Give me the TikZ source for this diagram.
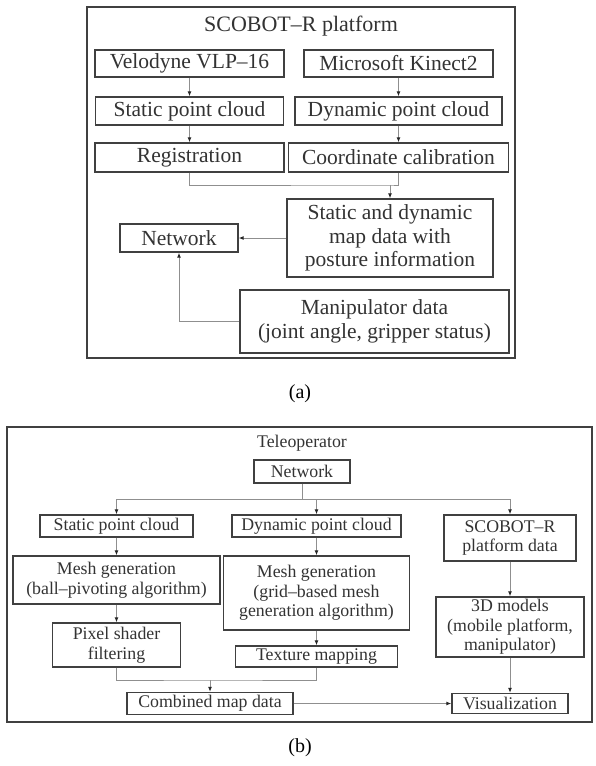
\documentclass[tikz,border=0pt]{standalone}
\usepackage{fontspec}
\setmainfont{Liberation Serif}
\usetikzlibrary{arrows.meta}

\newlength{\du}
\setlength{\du}{1pt}

\definecolor{framecolor}{rgb}{0.250000, 0.250000, 0.250000}
\definecolor{linkcolor}{rgb}{0.560000, 0.560000, 0.560000}
\definecolor{textcolor}{rgb}{0.200000, 0.200000, 0.200000}

\tikzset{
  frame/.style={draw=framecolor, line width=1.5\du},
  blockA/.style={draw=framecolor, line width=1.3\du, inner sep=0pt, align=center,
    text=textcolor, font=\fontsize{21.5}{23.5}\selectfont},
  blockB/.style={draw=framecolor, line width=1.3\du, inner sep=0pt, align=center,
    text=textcolor, font=\fontsize{17.8}{19.5}\selectfont},
  titleA/.style={inner sep=0pt, text=textcolor, font=\fontsize{22}{24}\selectfont},
  titleB/.style={inner sep=0pt, text=textcolor, font=\fontsize{17.8}{19.5}\selectfont},
  caption/.style={inner sep=0pt, text=black, font=\fontsize{20}{24}\selectfont},
  wire/.style={draw=linkcolor, line width=1\du},
  link/.style={draw=linkcolor, line width=1\du,
    -{Latex[length=5pt,width=4pt,color=black!85]}},
}

\begin{document}
\begin{tikzpicture}
\pgftransformxscale{1.000000}
\pgftransformyscale{-1.000000}
\fill[white] (0\du,0\du) rectangle (595\du,766\du);
\useasboundingbox (0\du,0\du) rectangle (595\du,766\du);
% panel (a)
\draw[frame] (87\du,7\du) rectangle (515\du,358\du);
\node[titleA] (titleA) at (301\du,26\du) {SCOBOT--R platform};
\node[blockA, minimum width=189\du, minimum height=27\du] (velo) at (189.5\du,63.5\du) {Velodyne VLP--16};
\node[blockA, minimum width=189\du, minimum height=27\du] (kinect) at (398.5\du,63.5\du) {Microsoft Kinect2};
\node[blockA, minimum width=188\du, minimum height=28\du] (staticA) at (189.5\du,111\du) {Static point cloud};
\node[blockA, minimum width=207\du, minimum height=28\du] (dynamicA) at (398.5\du,111\du) {Dynamic point cloud};
\node[blockA, minimum width=189\du, minimum height=29\du] (regist) at (189.5\du,157.5\du) {Registration};
\node[blockA, minimum width=220\du, minimum height=29\du] (calib) at (398.5\du,157.5\du) {Coordinate calibration};
\node[blockA, minimum width=206\du, minimum height=78\du] (mapdata) at (390\du,238\du) {Static and dynamic\\map data with\\posture information};
\node[blockA, minimum width=118\du, minimum height=28\du] (netA) at (179\du,238\du) {Network};
\node[blockA, minimum width=269\du, minimum height=63\du] (manip) at (374.5\du,321.5\du) {Manipulator data\\(joint angle, gripper status)};
\node[caption] (capA) at (300\du,394\du) {(a)};
\coordinate (mergeA) at (mapdata.north |- 0\du,185\du);
\draw[link] (velo) -- (staticA);
\draw[link] (kinect) -- (dynamicA);
\draw[link] (staticA) -- (regist);
\draw[link] (dynamicA) -- (calib);
\draw[wire] (regist.south) |- (mergeA) -| (calib.south);
\draw[link] (mergeA) -- (mapdata.north);
\draw[link] (mapdata.west) -- (netA.east);
\draw[link] (manip.west) -| (netA.south);
% panel (b)
\draw[frame] (7\du,427\du) rectangle (592\du,722\du);
\node[titleB] (titleB) at (302\du,443\du) {Teleoperator};
\node[blockB, minimum width=96\du, minimum height=23\du] (netB) at (302\du,471.5\du) {Network};
\node[blockB, minimum width=153\du, minimum height=22\du] (staticB) at (116.5\du,526\du) {Static point cloud};
\node[blockB, minimum width=169\du, minimum height=22\du] (dynamicB) at (316.5\du,526\du) {Dynamic point cloud};
\node[blockB, minimum width=132\du, minimum height=46\du] (platB) at (510\du,538\du) {SCOBOT--R\\platform data};
\node[blockB, minimum width=207\du, minimum height=48\du] (meshS) at (116.5\du,580\du) {Mesh generation\\(ball--pivoting algorithm)};
\node[blockB, minimum width=186\du, minimum height=74\du] (meshD) at (316.5\du,593\du) {Mesh generation\\(grid--based mesh\\generation algorithm)};
\node[blockB, minimum width=148\du, minimum height=60\du] (models) at (510\du,627\du) {3D models\\(mobile platform,\\manipulator)};
\node[blockB, minimum width=128\du, minimum height=44\du] (pixel) at (116.5\du,645\du) {Pixel shader\\filtering};
\node[blockB, minimum width=162\du, minimum height=21\du] (texture) at (316.5\du,656.5\du) {Texture mapping};
\node[blockB, minimum width=166\du, minimum height=22\du] (combined) at (210\du,703.5\du) {Combined map data};
\node[blockB, minimum width=116\du, minimum height=20\du] (visual) at (510\du,703.5\du) {Visualization};
\node[caption] (capB) at (300\du,748\du) {(b)};
\coordinate (splitB) at (netB.south |- 0\du,499\du);
\coordinate (mergeB) at (combined.north |- 0\du,680\du);
\draw[wire] (netB.south) -- (splitB);
\draw[link] (splitB) -| (staticB.north);
\draw[link] (splitB) -| (dynamicB.north);
\draw[link] (splitB) -| (platB.north);
\draw[link] (staticB) -- (meshS);
\draw[link] (meshS) -- (pixel);
\draw[link] (dynamicB) -- (meshD);
\draw[link] (meshD) -- (texture);
\draw[link] (platB) -- (models);
\draw[link] (models) -- (visual);
\draw[wire] (pixel.south) |- (mergeB) -| (texture.south);
\draw[link] (mergeB) -- (combined.north);
\draw[link] (combined) -- (visual);
\end{tikzpicture}
\end{document}
